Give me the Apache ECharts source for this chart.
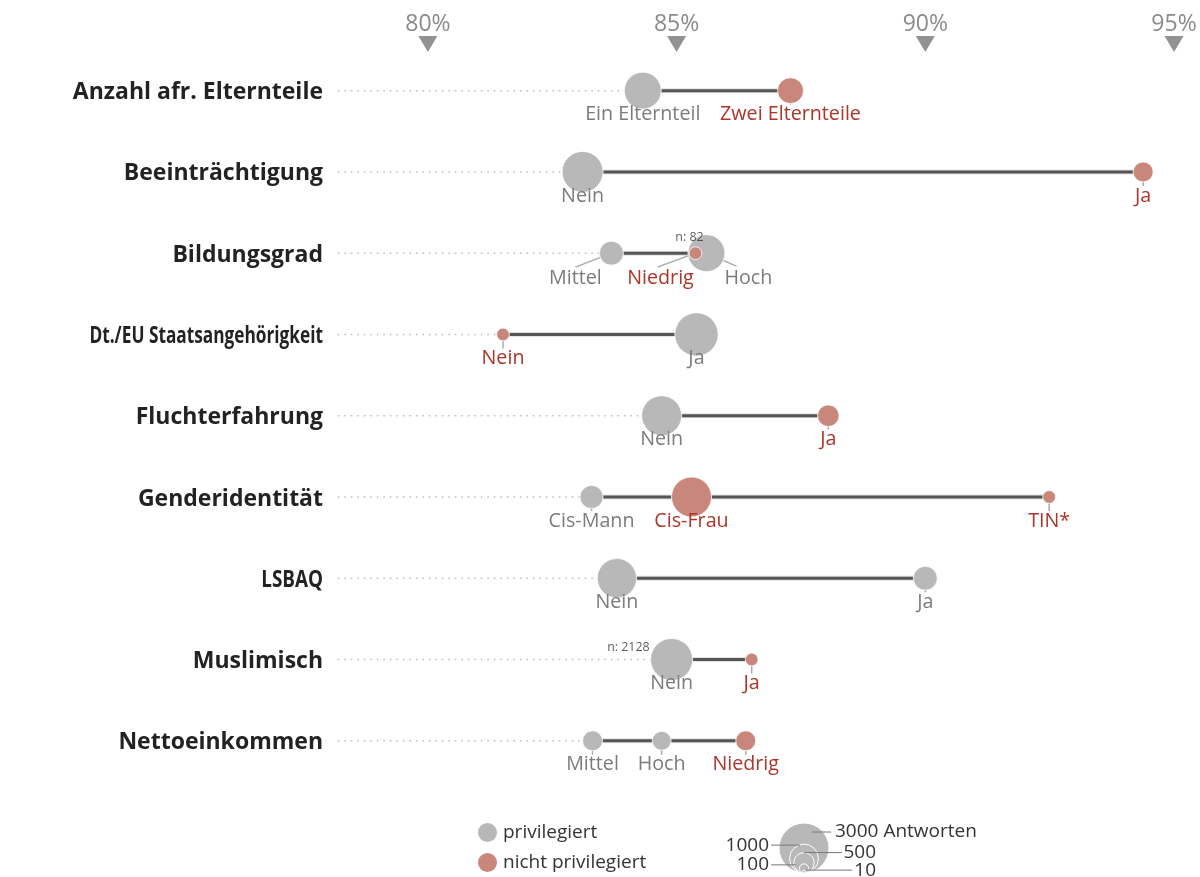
<!DOCTYPE html>
<html><head><meta charset="utf-8">
<script src="https://cdn.jsdelivr.net/npm/echarts@6/dist/echarts.min.js"></script>
<style>html,body{margin:0;padding:0;background:#fff}#c{width:1200px;height:877px}</style>
</head><body><div id="c"></div>
<script>
// ---------- data ----------
const categories = ['Anzahl afr. Elternteile','Beeinträchtigung','Bildungsgrad','Dt./EU Staatsangehörigkeit','Fluchterfahrung','Genderidentität','LSBAQ','Muslimisch','Nettoeinkommen'];
const tickValues = [80, 85, 90, 95];
const pointRow   = [0,0, 1,1, 2,2,2, 3,3, 4,4, 5,5,5, 6,6, 7,7, 8,8,8];
const pointLabel = ['Ein Elternteil','Zwei Elternteile','Nein','Ja','Mittel','Niedrig','Hoch','Nein','Ja','Nein','Ja','Cis-Mann','Cis-Frau','TIN*','Nein','Ja','Nein','Ja','Mittel','Hoch','Niedrig'];
const pointValue = [84.32,87.29, 83.11,94.38, 83.69,85.38,85.60, 81.51,85.40, 84.70,88.05, 83.29,85.30,92.49, 83.80,90.00, 84.90,86.51, 83.31,84.70,86.39];
const pointN     = [1640,810, 2020,480, 690,82,1640, 90,2260, 1920,560, 640,1920,110, 1860,690, 2128,95, 480,430,480];
const pointPriv  = [1,0, 1,0, 1,0,1, 0,1, 1,0, 1,0,0, 1,1, 1,0, 1,1,0];
const noteIndex  = [5, 16];
const sizeLegendValues = [3000, 1000, 500, 100, 10];
const sizeLegendLabels = ['3000 Antworten', '1000', '500', '100', '10'];

// ---------- style ----------
const GRAY = '#b8b8b8', RED = '#c9877b', GRAY_TXT = '#7b7b7b', RED_TXT = '#ad3529';
const DOT_START = 78.19;
const FONT = 'Open Sans';
function radius(n){ return Math.max(6.4, 25 * Math.sqrt(n / 3000)); }
// label offsets [dx, dy, leaderDx, leaderDy]
const labelOff = { 4: [-36, 25, -36, 14], 5: [-35, 25, -38, 14], 6: [42, 25, 30, 13] };
const DEFAULT_OFF = [0, 24, 0, 14];
const catScaleX = { 3: 0.75, 6: 0.82 };

const pts = pointValue.map((v, i) => ({ i, v, row: pointRow[i] }));
function mkItem(p){
  const o = labelOff[p.i] || DEFAULT_OFF;
  return {
    value: [p.v, p.row, pointN[p.i]],
    name: pointLabel[p.i],
    symbolSize: 2 * radius(pointN[p.i]),
    label: { offset: [o[0], o[1]] }
  };
}
const privData = pts.filter(p => pointPriv[p.i] === 1).map(mkItem);
const nonData  = pts.filter(p => pointPriv[p.i] === 0).map(mkItem);

const rowData = categories.map((c, r) => {
  const vs = pointValue.filter((v, i) => pointRow[i] === r);
  return [r, Math.min(...vs), Math.max(...vs)];
});
const leaderData = pts.map(p => {
  const o = labelOff[p.i] || DEFAULT_OFF;
  return [p.v, p.row, o[2], o[3]];
});
const noteData = noteIndex.map(i => ({ value: [pointValue[i], pointRow[i]], name: pointN[i] }));

const chart = echarts.init(document.getElementById('c'), null, { renderer: 'canvas' });

const legendText = { fontSize: 19, color: '#333', fontFamily: FONT };
const option = {
  animation: false,
  textStyle: { fontFamily: FONT },
  grid: [
    { left: 328.4, right: 26, top: 50, height: 731.4 },
    { left: 328.4, right: 26, top: 36, height: 16 }
  ],
  xAxis: [
    { type: 'value', gridIndex: 0, position: 'top', min: 78, max: 95, interval: 1,
      axisLine: { show: false }, axisTick: { show: false }, splitLine: { show: false },
      axisLabel: { margin: 14, fontSize: 23, color: '#8a8a8a', fontFamily: FONT,
        formatter: v => tickValues.indexOf(v) >= 0 ? v + '%' : '' } },
    { type: 'value', gridIndex: 1, min: 78, max: 95, show: false }
  ],
  yAxis: [
    { type: 'category', gridIndex: 0, data: categories, inverse: true,
      axisLine: { show: false }, axisTick: { show: false }, splitLine: { show: false },
      axisLabel: { show: false } },
    { type: 'category', gridIndex: 1, data: ['t'], show: false }
  ],
  legend: [
    { data: ['privilegiert'], left: 471, top: 816, icon: 'circle', itemWidth: 21, itemHeight: 21,
      selectedMode: false, textStyle: legendText },
    { data: ['nicht privilegiert'], left: 471, top: 846, icon: 'circle', itemWidth: 21, itemHeight: 21,
      selectedMode: false, textStyle: legendText }
  ],
  series: [
    { type: 'scatter', xAxisIndex: 1, yAxisIndex: 1, symbol: 'triangle', symbolRotate: 180,
      symbolSize: [19, 16], itemStyle: { color: '#777' }, silent: true,
      data: tickValues.map(v => [v, 0]) },
    // category labels
    { type: 'custom', xAxisIndex: 0, yAxisIndex: 0, z: 2, silent: true,
      data: categories.map((c, i) => [78, i]),
      renderItem: (params, api) => {
        const i = params.dataIndex;
        const p = api.coord([api.value(0), api.value(1)]);
        return { type: 'text', x: p[0] - 5.4, y: p[1] + 2, scaleX: catScaleX[i] || 1,
          style: { text: categories[i], align: 'right', verticalAlign: 'middle',
            font: 'bold 23px "Open Sans"', fill: '#222' } };
      } },
    { type: 'custom', xAxisIndex: 0, yAxisIndex: 0, z: 1, silent: true, data: rowData,
      renderItem: (params, api) => {
        const a = api.coord([DOT_START, api.value(0)]);
        const b = api.coord([api.value(1), api.value(0)]);
        const c = api.coord([api.value(2), api.value(0)]);
        return { type: 'group', children: [
          { type: 'line', shape: { x1: a[0], y1: a[1], x2: b[0], y2: b[1] },
            style: { stroke: '#bbb', lineWidth: 1.5, lineDash: [1.5, 5] } },
          { type: 'line', shape: { x1: b[0], y1: b[1], x2: c[0], y2: c[1] },
            style: { stroke: '#e2e2e2', lineWidth: 5 } },
          { type: 'line', shape: { x1: b[0], y1: b[1], x2: c[0], y2: c[1] },
            style: { stroke: '#555', lineWidth: 3 } }
        ]};
      } },
    { type: 'custom', xAxisIndex: 0, yAxisIndex: 0, z: 1, silent: true, data: leaderData,
      renderItem: (params, api) => {
        const p = api.coord([api.value(0), api.value(1)]);
        return { type: 'line', shape: { x1: p[0], y1: p[1], x2: p[0] + api.value(2), y2: p[1] + api.value(3) },
          style: { stroke: '#aaa', lineWidth: 1.5 } };
      } },
    { name: 'privilegiert', type: 'scatter', z: 3, data: privData,
      itemStyle: { color: GRAY, opacity: 1, borderColor: '#fff', borderWidth: 0.8 },
      label: { show: true, position: 'inside', formatter: '{b}', fontSize: 19.7, color: GRAY_TXT, fontFamily: FONT } },
    { name: 'nicht privilegiert', type: 'scatter', z: 4, data: nonData,
      itemStyle: { color: RED, opacity: 1, borderColor: '#fff', borderWidth: 0.8 },
      label: { show: true, position: 'inside', formatter: '{b}', fontSize: 19.7, color: RED_TXT, fontFamily: FONT } },
    { type: 'scatter', z: 5, symbolSize: 0, silent: true, data: noteData,
      label: { show: true, position: 'inside', fontSize: 12.4, color: '#333', fontFamily: FONT,
        formatter: p => 'n: ' + p.name },
      labelLayout: (params) => {
        const idx = params.dataIndex;
        const r = params.rect;
        if (idx === 0) return { x: r.x + r.width / 2 - 6, y: r.y - 16, align: 'center', verticalAlign: 'middle' };
        return { x: r.x - 22, y: r.y - 12, align: 'right', verticalAlign: 'middle' };
      } }
  ]
};
chart.setOption(option);

// size legend
const cx = 804, bottom = 873;
const lineY = [9, 1, 0, 1, 0];
const textX = [834, 769, 876, 769, 876];
const textAlign = ['left', 'right', 'right', 'right', 'right'];
const lx1 = [812, 771, 804, 771, 806];
const lx2 = [831, 800, 842, 796, 852];
const g = [];
sizeLegendValues.forEach((n, i) => {
  const r = 25 * Math.sqrt(n / 3000);
  g.push({ type: 'circle', shape: { cx: cx, cy: bottom - r, r: r },
    style: { fill: GRAY, stroke: '#fff', lineWidth: 1 }, z: 10 + i });
});
sizeLegendValues.forEach((n, i) => {
  const r = 25 * Math.sqrt(n / 3000);
  const y = bottom - 2 * r + lineY[i];
  g.push({ type: 'line', shape: { x1: lx1[i], y1: y, x2: lx2[i], y2: y }, style: { stroke: '#777', lineWidth: 1 }, z: 20 });
  g.push({ type: 'text', x: textX[i] + (textAlign[i] === 'left' ? 1 : 0), y: y, z: 20,
    style: { text: sizeLegendLabels[i], fill: '#333', font: '19px "Open Sans"', align: textAlign[i], verticalAlign: 'middle' } });
});
chart.setOption({ graphic: g });
</script>
</body></html>
